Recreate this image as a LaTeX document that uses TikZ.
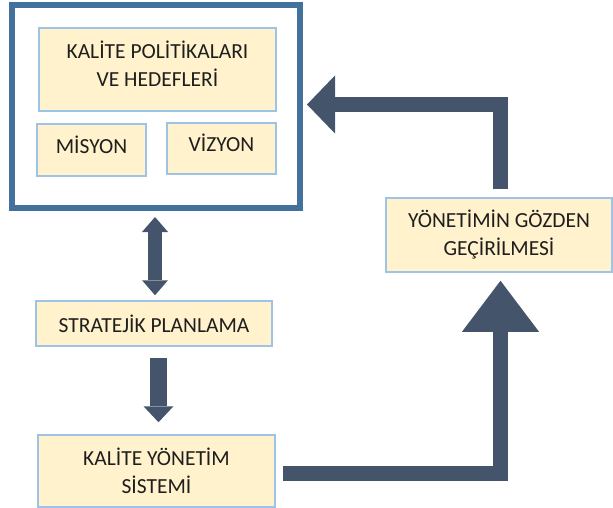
\documentclass[tikz,border=0pt]{standalone}
\usepackage{fontspec}
\setmainfont{Carlito}
\usetikzlibrary{arrows.meta}
\definecolor{boxfill}{RGB}{255,242,204}
\definecolor{boxline}{RGB}{157,195,230}
\definecolor{framecol}{RGB}{65,113,156}
\definecolor{arrowcol}{RGB}{68,84,106}
\definecolor{txt}{RGB}{30,30,30}
\tikzset{
  box/.style={draw=boxline, line width=1.5pt, fill=boxfill, inner sep=0pt, text=txt, align=center,
    font=\fontsize{21.5}{28}\selectfont},
  outerframe/.style={draw=framecol, line width=6pt, inner sep=0pt},
  blockarrow/.style={draw=arrowcol, line join=miter},
}
\begin{document}
\begin{tikzpicture}[x=1pt,y=-1pt]
\useasboundingbox (0,0) rectangle (613,508);
\node[outerframe, minimum width=288pt, minimum height=202.5pt] (frame) at (156,106.75) {};
\node[box, minimum width=237pt, minimum height=83pt,
  label={[box, draw=none, fill=none, yshift=6pt]center:KALİTE POLİTİKALARI\\VE HEDEFLERİ}] (kp) at (157.5,69.5) {};
\node[box, minimum width=109pt, minimum height=52pt,
  label={[box, draw=none, fill=none, yshift=5pt]center:MİSYON}] (mis) at (91.5,150) {};
\node[box, minimum width=109pt, minimum height=51pt,
  label={[box, draw=none, fill=none, yshift=5.5pt]center:VİZYON}] (viz) at (221.5,148.5) {};
\node[box, minimum width=236pt, minimum height=45pt] (strat) at (154,323.5) {STRATEJİK PLANLAMA};
\node[box, minimum width=237pt, minimum height=72pt] (kys) at (156.5,471) {KALİTE YÖNETİM\\SİSTEMİ};
\node[box, minimum width=226pt, minimum height=74pt] (yon) at (499,235) {YÖNETİMİN GÖZDEN\\GEÇİRİLMESİ};
% arrows
\draw[blockarrow, line width=14pt,
  {Triangle[length=15pt,width=26pt,line width=0pt]}-{Triangle[length=15pt,width=26pt,line width=0pt]},
  shorten <=6pt, shorten >=5pt] ([xshift=-1pt]frame.south) -- ([xshift=1pt]strat.north);
\draw[blockarrow, line width=17pt, -{Triangle[length=16pt,width=30pt,line width=0pt]},
  shorten <=11pt, shorten >=12pt] ([xshift=4.5pt]strat.south) -- ([xshift=2pt]kys.north);
\coordinate (c1) at (500.5,104.5);
\draw[blockarrow, line width=15pt, -{Triangle[length=28pt,width=58pt,line width=0pt]},
  shorten <=8pt, shorten >=4pt] (yon.north -| c1) -- (c1) -- (frame.east |- c1);
\coordinate (c2) at (500.5,473);
\draw[blockarrow, line width=15pt, -{Triangle[length=51pt,width=77pt,line width=0pt]},
  shorten <=7pt, shorten >=8pt] (kys.east |- c2) -- (c2) -- (yon.south -| c2);
\end{tikzpicture}
\end{document}
